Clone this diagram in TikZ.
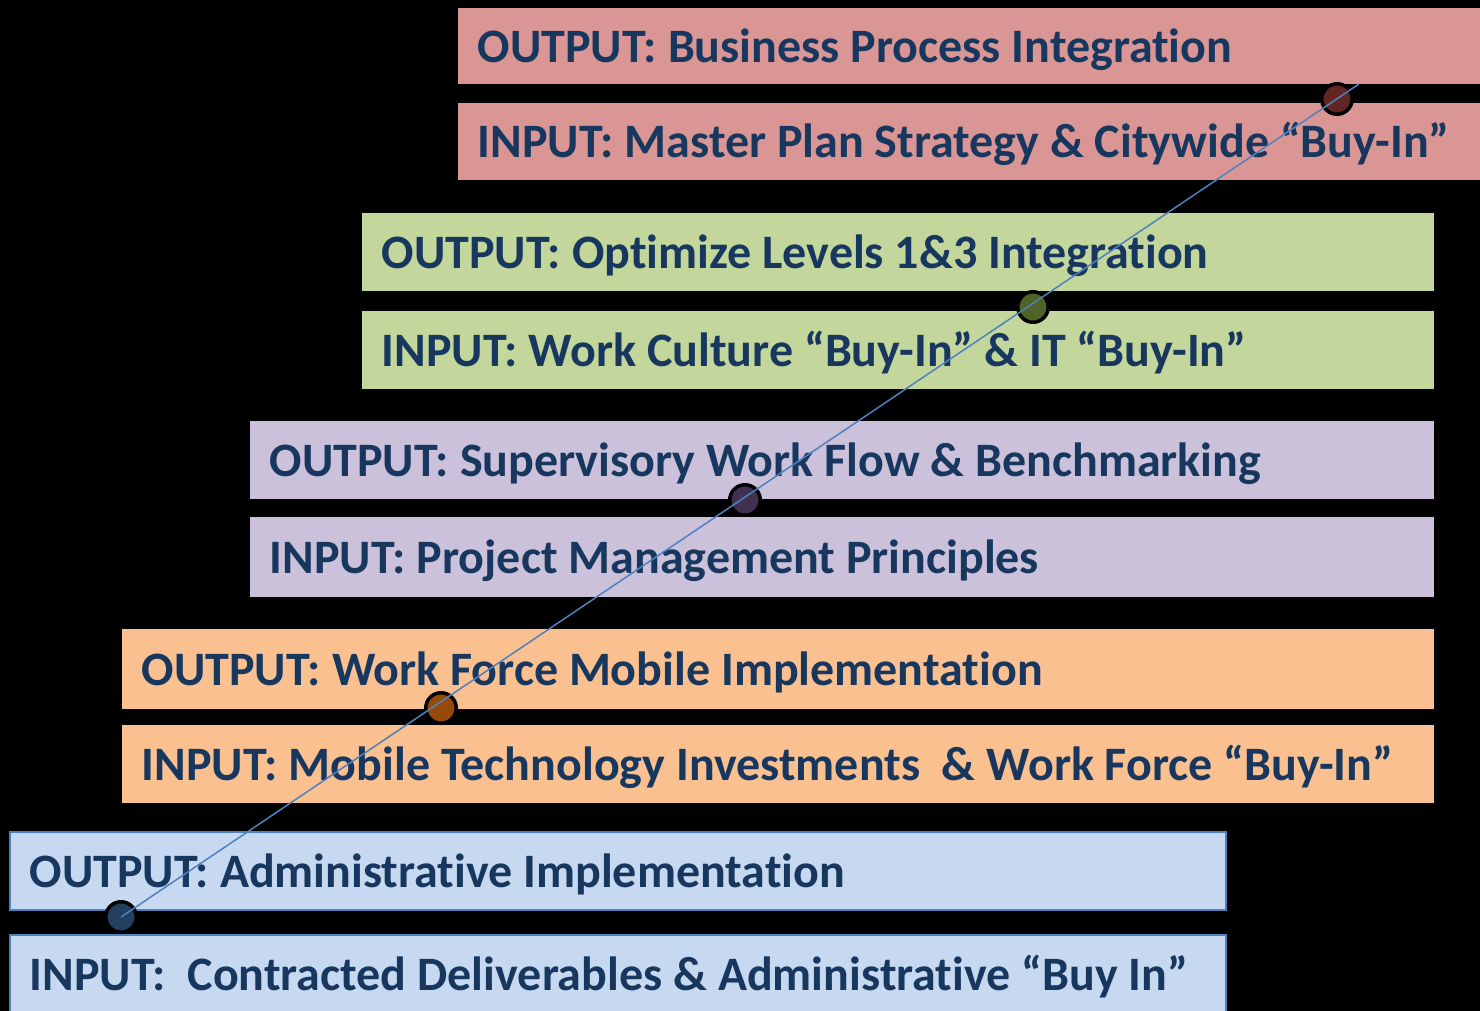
\documentclass[tikz,border=0pt]{standalone}
\usepackage{fontspec}
\setmainfont{Carlito}[Ligatures=NoCommon]

\definecolor{txtblue}{RGB}{23,55,94}
\definecolor{barred}{RGB}{217,150,148}
\definecolor{bargreen}{RGB}{195,214,155}
\definecolor{barpurple}{RGB}{204,193,218}
\definecolor{barorange}{RGB}{250,192,144}
\definecolor{barblue}{RGB}{198,217,241}
\definecolor{edgeblue}{RGB}{79,129,189}
\definecolor{dotred}{RGB}{99,37,35}
\definecolor{dotgreen}{RGB}{79,98,40}
\definecolor{dotpurple}{RGB}{64,49,82}
\definecolor{dotorange}{RGB}{152,72,7}
\definecolor{dotblue}{RGB}{36,64,97}

\tikzset{every picture/.style={line width=0.75pt}}
\tikzset{
  bar/.style={anchor=north west, inner sep=0pt, draw=none},
  lbl/.style={anchor=base west, inner sep=0pt, text=txtblue, font=\bfseries\fontsize{24}{28}\selectfont},
  stagedot/.style={circle, draw=black, line width=1.75pt, minimum size=15.25pt, inner sep=0pt},
  trend/.style={color=edgeblue, line width=0.75pt},
}

\begin{document}
\begin{tikzpicture}[x=0.5pt,y=0.5pt,yscale=-1,xscale=1]
%set diagram: 1480 wide, 1011 high, black background
\fill[black] (0,0) rectangle (1480,1011);
\useasboundingbox (0,0) rectangle (1480,1011);

%Shape: Rectangle [red pair]
\node[bar, fill=barred, minimum width=511.5pt, minimum height=38pt] (r1) at (457,7) {};
\node[bar, fill=barred, minimum width=511.5pt, minimum height=38.5pt] (r2) at (457,102) {};
%Shape: Rectangle [green pair]
\node[bar, fill=bargreen, minimum width=536pt, minimum height=39pt] (g1) at (361,212) {};
\node[bar, fill=bargreen, minimum width=536pt, minimum height=39pt] (g2) at (361,310) {};
%Shape: Rectangle [purple pair]
\node[bar, fill=barpurple, minimum width=592pt, minimum height=39pt] (p1) at (249,420) {};
\node[bar, fill=barpurple, minimum width=592pt, minimum height=40pt] (p2) at (249,516) {};
%Shape: Rectangle [orange pair]
\node[bar, fill=barorange, minimum width=656pt, minimum height=40pt] (o1) at (121,628) {};
\node[bar, fill=barorange, minimum width=656pt, minimum height=39pt] (o2) at (121,724) {};
%Shape: Rectangle [blue pair]
\node[bar, fill=barblue, draw=edgeblue, line width=1pt, minimum width=608pt, minimum height=39pt] (b1) at (9,831) {};
\node[bar, fill=barblue, draw=edgeblue, line width=1pt, minimum width=608pt, minimum height=39pt] (b2) at (9,934) {};

% Text Node
\node[lbl] (r1t) at ([xshift=10pt,yshift=8.25pt]r1.west) {OUTPUT: Business Process Integration};
% Text Node
\node[lbl] (r2t) at ([xshift=10pt,yshift=8.25pt]r2.west) {INPUT: Master Plan Strategy \& Citywide “Buy-In”};
% Text Node
\node[lbl] (g1t) at ([xshift=10pt,yshift=8.25pt]g1.west) {OUTPUT: Optimize Levels 1\&3 Integration};
% Text Node
\node[lbl] (g2t) at ([xshift=10pt,yshift=8.25pt]g2.west) {INPUT: Work Culture “Buy-In” \& IT “Buy-In”};
% Text Node
\node[lbl] (p1t) at ([xshift=10pt,yshift=8.25pt]p1.west) {OUTPUT: Supervisory Work Flow \& Benchmarking};
% Text Node
\node[lbl] (p2t) at ([xshift=10pt,yshift=8.25pt]p2.west) {INPUT: Project Management Principles};
% Text Node
\node[lbl] (o1t) at ([xshift=10pt,yshift=8.25pt]o1.west) {OUTPUT: Work Force Mobile Implementation};
% Text Node
\node[lbl] (o2t) at ([xshift=10pt,yshift=8.25pt]o2.west) {INPUT: Mobile Technology Investments\ \ \& Work Force “Buy-In”};
% Text Node
\node[lbl] (b1t) at ([xshift=10pt,yshift=8.25pt]b1.west) {OUTPUT: Administrative Implementation};
% Text Node
\node[lbl] (b2t) at ([xshift=10pt,yshift=8.25pt]b2.west) {INPUT:\ \ Contracted Deliverables \& Administrative “Buy In”};

%Shape: Circle [stage dots]
\node[stagedot, fill=dotred] (dr) at (1337,99) {};
\node[stagedot, fill=dotgreen] (dg) at (1033,307) {};
\node[stagedot, fill=dotpurple] (dp) at (745,500) {};
\node[stagedot, fill=dotorange] (do) at (441,708) {};
\node[stagedot, fill=dotblue] (db) at (121,917) {};

%Straight Lines [trend line]
\coordinate (trendend) at (1359,84);
\draw[trend] (db.center) -- (trendend);

\end{tikzpicture}
\end{document}
